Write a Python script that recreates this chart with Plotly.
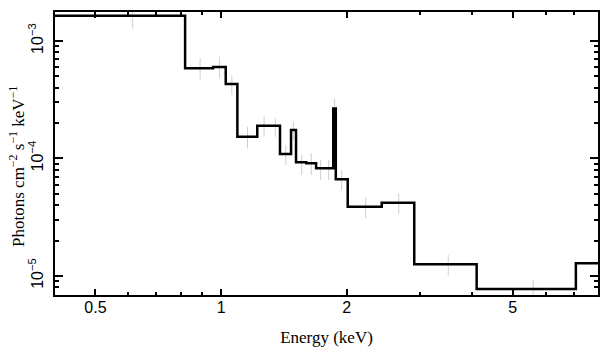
import numpy as np
import plotly.graph_objects as go

# Model step function (bin edges in keV, model flux per bin)
bin_edges = [0.4, 0.82, 0.957, 1.026, 1.094, 1.221, 1.30, 1.384, 1.471, 1.512,
             1.60, 1.689, 1.77, 1.857, 1.883, 2.011, 2.426, 2.903, 4.096, 7.08, 10.0]
model_flux = [1.64e-3, 5.86e-4, 6.0e-4, 4.3e-4, 1.53e-4, 1.90e-4, 1.90e-4, 1.09e-4,
              1.75e-4, 9.3e-5, 9.1e-5, 8.26e-5, 8.26e-5, 2.67e-4, 6.65e-5, 3.89e-5,
              4.2e-5, 1.26e-5, 7.75e-6, 1.28e-5]

# Data points (bin centres) with lower / upper error limits
data_energy = [0.614, 0.891, 0.991, 1.061, 1.157, 1.268, 1.349, 1.429, 1.490, 1.560,
               1.645, 1.732, 1.810, 1.870, 1.945, 2.221, 2.665, 3.502, 5.595]
data_low = [1.28e-3, 4.72e-4, 4.82e-4, 3.47e-4, 1.22e-4, 1.53e-4, 1.53e-4, 8.81e-5,
            1.44e-4, 7.24e-5, 7.24e-5, 6.56e-5, 6.56e-5, 2.2e-4, 5.40e-5, 3.10e-5,
            3.37e-5, 1.0e-5, 6.5e-6]
data_high = [2.0e-3, 7.12e-4, 7.35e-4, 5.14e-4, 1.87e-4, 2.27e-4, 2.21e-4, 1.30e-4,
             2.06e-4, 1.07e-4, 1.11e-4, 9.70e-5, 9.70e-5, 3.25e-4, 7.98e-5, 4.68e-5,
             5.06e-5, 1.51e-5, 9.24e-6]

x_major = [0.5, 1, 2, 5]
x_major_text = ["0.5", "1", "2", "5"]
x_minor = [0.6, 0.7, 0.8, 0.9, 3, 4, 6, 7]
y_major = [1e-5, 1e-4, 1e-3]
y_major_text = ["10<sup>−5</sup>", "10<sup>−4</sup>", "10<sup>−3</sup>"]
y_minor = [m * d for d in (1e-6, 1e-5, 1e-4, 1e-3) for m in range(2, 10)]

x_title = "Energy (keV)"
y_title = "Photons cm<sup>−2</sup> s<sup>−1</sup> keV<sup>−1</sup>"

dlo = np.array(data_low)
dhi = np.array(data_high)
dval = np.sqrt(dlo * dhi)

fig = go.Figure()
fig.add_trace(go.Scatter(
    x=data_energy, y=dval, mode="markers",
    marker=dict(size=1, color="rgba(0,0,0,0)"),
    error_y=dict(type="data", symmetric=False, array=dhi - dval, arrayminus=dval - dlo,
                 color="#cfcfcf", thickness=1, width=0),
    showlegend=False, hoverinfo="skip"))

step_x = list(bin_edges)
step_y = list(model_flux) + [model_flux[-1]]
fig.add_trace(go.Scatter(
    x=step_x, y=step_y, mode="lines", line=dict(shape="hv", color="black", width=2.5),
    showlegend=False, hoverinfo="skip"))

serif = "Liberation Serif, Times New Roman, serif"
axis_common = dict(
    showline=True, linecolor="black", linewidth=2, mirror="ticks",
    ticks="inside", tickcolor="black", tickwidth=1.5, showgrid=False, zeroline=False,
    automargin=False,
    tickfont=dict(family="Liberation Sans, Arial, sans-serif", size=16, color="black"),
)

fig.update_xaxes(
    type="log", range=[np.log10(0.4), np.log10(8)],
    tickmode="array", tickvals=x_major, ticktext=x_major_text, ticklen=6,
    ticklabelstandoff=-3,
    minor=dict(tickmode="array", tickvals=x_minor, ticks="inside", ticklen=3,
               tickcolor="black", tickwidth=1.5, showgrid=False),
    title=dict(text=x_title, standoff=16, font=dict(family=serif, size=17, color="black")),
    **axis_common)

fig.update_yaxes(
    type="log", range=[-5.162, -2.753],
    tickmode="array", tickvals=y_major, ticktext=y_major_text, ticklen=8, tickangle=-90,
    ticklabelstandoff=4,
    minor=dict(tickmode="array", tickvals=y_minor, ticks="inside", ticklen=4,
               tickcolor="black", tickwidth=1.5, showgrid=False),
    **axis_common)

fig.add_annotation(
    text=y_title, xref="paper", yref="paper", x=-0.070, y=0.456,
    xanchor="center", yanchor="middle", textangle=-90, showarrow=False,
    font=dict(family=serif, size=17, color="black"))

fig.update_layout(
    width=609, height=357,
    margin=dict(l=55, r=11, t=12, b=62),
    plot_bgcolor="white", paper_bgcolor="white",
)

fig.write_html("out.html", config={"displayModeBar": False},
               post_script="document.body.style.margin='0';")
